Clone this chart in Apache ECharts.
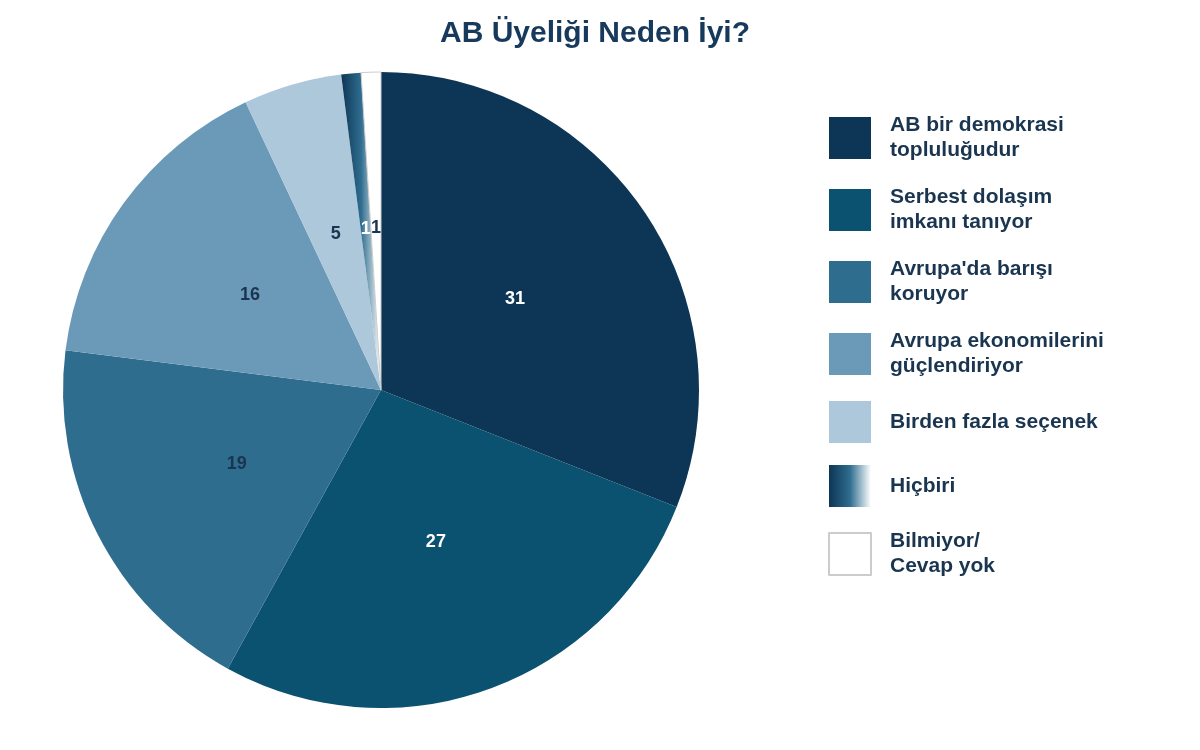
<!DOCTYPE html>
<html>
<head>
<meta charset="utf-8">
<script src="https://cdn.jsdelivr.net/npm/echarts@6/dist/echarts.min.js"></script>
<style>html,body{margin:0;background:#fff}#chart{width:1200px;height:750px}</style>
</head>
<body>
<div id="chart"></div>
<script>
const categories = ['AB bir demokrasi\ntopluluğudur', 'Serbest dolaşım\nimkanı tanıyor', 'Avrupa\'da barışı\nkoruyor', 'Avrupa ekonomilerini\ngüçlendiriyor', 'Birden fazla seçenek', 'Hiçbiri', 'Bilmiyor/\nCevap yok'];
const values = [31, 27, 19, 16, 5, 1, 1];
const colors = ['#0d3556', '#0b5170', '#2f6d8e', '#6b9ab8', '#adc7db', null, '#ffffff'];
const labelColors = ['#ffffff', '#ffffff', '#1a3550', '#1a3550', '#1a3550', '#ffffff', '#1a3550'];

const font = '"Liberation Sans Narrow", "Liberation Sans", sans-serif';
const hicbiriGradient = new echarts.graphic.LinearGradient(0, 0, 1, 0, [
    { offset: 0, color: '#0d3556' },
    { offset: 0.5, color: '#2f6d8e' },
    { offset: 1, color: '#ffffff' }
]);

const data = categories.map((name, i) => {
    const item = {
        name: name,
        value: values[i],
        itemStyle: { color: colors[i] || hicbiriGradient },
        label: { color: labelColors[i] }
    };
    if (i === 6) {
        item.itemStyle.borderColor = '#cccccc';
        item.itemStyle.borderWidth = 1;
    }
    return item;
});

const chart = echarts.init(document.getElementById('chart'));
chart.setOption({
    title: {
        text: 'AB Üyeliği Neden İyi?',
        left: 590,
        top: 14,
        textAlign: 'center',
        textStyle: { fontFamily: font, fontSize: 30, fontWeight: 'bold', color: '#173a5c' }
    },
    legend: {
        orient: 'vertical',
        left: 823,
        top: 108,
        itemWidth: 42,
        itemHeight: 42,
        itemGap: 22,
        icon: 'rect',
        textStyle: { fontFamily: font, fontSize: 21, fontWeight: 'bold', color: '#1a3550', lineHeight: 25, padding: [0, 0, 0, 14] },
        data: categories
    },
    series: [{
        type: 'pie',
        center: [381, 390],
        radius: ['0%', 318],
        startAngle: 90,
        clockwise: true,
        data: data,
        label: {
            position: 'inside',
            formatter: '{c}',
            fontFamily: font,
            fontSize: 18,
            fontWeight: 'bold'
        },
        labelLine: { show: false },
        emphasis: { disabled: true }
    }]
});
</script>
</body>
</html>
